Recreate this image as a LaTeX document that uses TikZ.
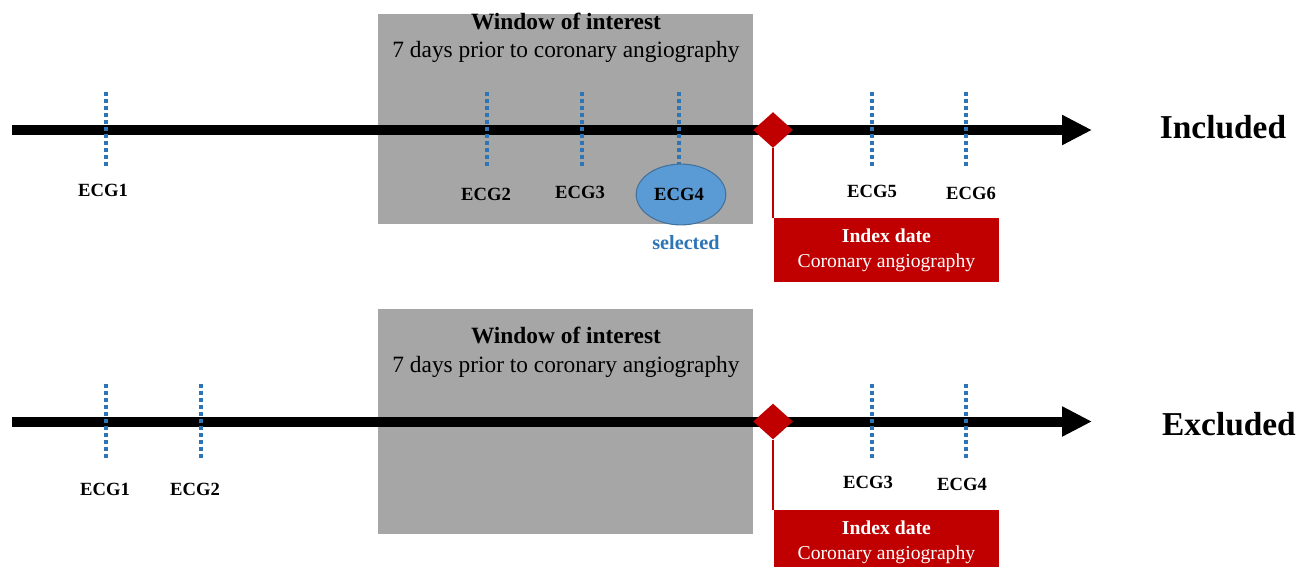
\documentclass[tikz,border=0pt]{standalone}
\usepackage{fontspec}
\setmainfont{Liberation Serif}
\usepackage{xcolor}
\usepackage{tikz}
\usetikzlibrary{shapes,arrows.meta,positioning}

\definecolor{wingray}{HTML}{A6A6A6}
\definecolor{idxred}{HTML}{C00000}
\definecolor{ecgblue}{HTML}{2E75B6}
\definecolor{selfill}{HTML}{5B9BD5}
\definecolor{seledge}{HTML}{41719C}

\begin{document}
\begin{tikzpicture}[
    x=0.02cm, y=0.02cm,
    window/.style={rectangle, fill=wingray, anchor=north west, inner sep=0pt, minimum width=213.2pt},
    wintitle/.style={anchor=base, inner sep=0pt, font=\fontsize{13.3}{16}\selectfont\bfseries},
    winsub/.style={anchor=base, inner sep=0pt, font=\fontsize{13.3}{16}\selectfont},
    axis/.style={line width=5.7pt, -{Triangle[length=17pt, width=16pt]}},
    ecgtick/.style={ecgblue, line width=2pt, dash pattern=on 2pt off 2pt},
    ecg/.style={anchor=base, inner sep=0pt, font=\fontsize{10.6}{12}\selectfont\bfseries},
    index/.style={diamond, fill=idxred, inner sep=0pt, minimum width=22.7pt, minimum height=20.4pt},
    indexbox/.style={rectangle, fill=idxred, text=white, anchor=north west, minimum width=127.6pt, minimum height=36.3pt, inner sep=0pt, align=center, font=\fontsize{11.2}{14.2}\selectfont},
    redline/.style={idxred, line width=0.8pt},
    chosen/.style={ellipse, fill=selfill, draw=seledge, line width=0.6pt, minimum width=51pt, minimum height=34.6pt},
    outcome/.style={anchor=base, inner sep=0pt, font=\fontsize{19}{22}\selectfont\bfseries}
]
\useasboundingbox (0,0) rectangle (1299,-566);

% Included timeline
\node[window, minimum height=119.6pt] (win1) at (378,-14) {};
\node[wintitle] (wintitle1) at (566,-29) {Window of interest};
\node[winsub] (winsub1) at (566,-57) {7 days prior to coronary angiography};

\coordinate (start1) at (12,-130);
\coordinate (end1) at (1092,-130);
\draw[axis] (start1) -- (end1);

\foreach \n/\x in {1/106,2/487,3/582,4/679,5/872,6/966} {
  \coordinate (tickA\n) at (\x,-92);
  \coordinate (tickB\n) at (\x,-166);
  \draw[ecgtick] (tickA\n) -- (tickB\n);
}

\node[chosen] (pick) at (681,-194.5) {};
\node[ecg] (ecg1) at (103,-196) {ECG1};
\node[ecg] (ecg2) at (486,-200) {ECG2};
\node[ecg] (ecg3) at (580,-198) {ECG3};
\node[ecg] (ecg4) at (679,-200) {ECG4};
\node[ecg] (ecg5) at (872,-197) {ECG5};
\node[ecg] (ecg6) at (971,-199) {ECG6};
\node[ecg, text=ecgblue, font=\fontsize{11.5}{13}\selectfont\bfseries] (sel) at (686,-249) {selected};

\node[index] (dia1) at (773,-130) {};
\node[indexbox] (idx1) at (774,-218) {\textbf{Index date}\\Coronary angiography};
\draw[redline] (dia1.south) -- (dia1.south |- idx1.north);

\node[outcome] (incl) at (1223,-138) {Included};

% Excluded timeline
\node[window, minimum height=128.1pt] (win2) at (378,-309) {};
\node[wintitle] (wintitle2) at (566,-343) {Window of interest};
\node[winsub] (winsub2) at (566,-372) {7 days prior to coronary angiography};

\coordinate (start2) at (12,-421.5);
\coordinate (end2) at (1092,-421.5);
\draw[axis] (start2) -- (end2);

\foreach \n/\x in {1/106,2/201,3/872,4/966} {
  \coordinate (tockA\n) at (\x,-384);
  \coordinate (tockB\n) at (\x,-458);
  \draw[ecgtick] (tockA\n) -- (tockB\n);
}

\node[ecg] (ecgb1) at (105,-495) {ECG1};
\node[ecg] (ecgb2) at (195,-495) {ECG2};
\node[ecg] (ecgb3) at (868,-488) {ECG3};
\node[ecg] (ecgb4) at (962,-490) {ECG4};

\node[index] (dia2) at (773,-421.5) {};
\node[indexbox] (idx2) at (774,-510) {\textbf{Index date}\\Coronary angiography};
\draw[redline] (dia2.south) -- (dia2.south |- idx2.north);

\node[outcome] (excl) at (1229,-435) {Excluded};

\end{tikzpicture}
\end{document}
